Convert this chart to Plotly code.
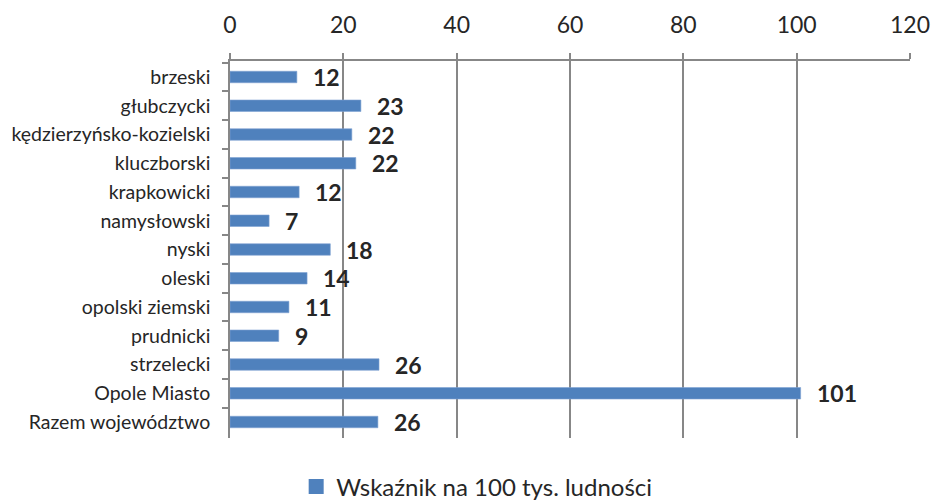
import plotly.graph_objects as go

categories = ["brzeski", "głubczycki", "kędzierzyńsko-kozielski", "kluczborski",
              "krapkowicki", "namysłowski", "nyski", "oleski", "opolski ziemski",
              "prudnicki", "strzelecki", "Opole Miasto", "Razem województwo"]
values = [11.8, 23.1, 21.5, 22.2, 12.2, 6.9, 17.7, 13.6, 10.4, 8.6, 26.3, 100.7, 26.1]
labels = ["12", "23", "22", "22", "12", "7", "18", "14", "11", "9", "26", "101", "26"]
series_name = "Wskaźnik na 100 tys. ludności"
x_ticks = [0, 20, 40, 60, 80, 100, 120]

FONT = "Lato, 'Open Sans', sans-serif"
GRID = "#878787"
BLUE = "#4F81BD"

fig = go.Figure()
fig.add_trace(go.Bar(
    x=values, y=categories, orientation="h", width=0.4,
    marker=dict(color=BLUE, line=dict(color="#7FA3D3", width=0.6)),
    name=series_name, showlegend=False,
))
# legend entry with a larger square swatch
fig.add_trace(go.Scatter(
    x=[None], y=[None], mode="markers", name=series_name,
    marker=dict(symbol="square", size=15, color=BLUE), showlegend=True,
))

for v, c, t in zip(values, categories, labels):
    fig.add_annotation(x=v, y=c, text="<b>%s</b>" % t, showarrow=False,
                       xanchor="left", yanchor="middle", xshift=14, yshift=0,
                       font=dict(family=FONT, size=23, color="#262626"))

fig.update_layout(
    width=931, height=503,
    margin=dict(l=230, r=21, t=61, b=65),
    paper_bgcolor="white", plot_bgcolor="white",
    font=dict(family=FONT, color="#262626"),
    bargap=0.6,
    xaxis=dict(side="top", range=[0, 120], tickvals=x_ticks, showgrid=True,
               gridcolor=GRID, gridwidth=1.5, showline=True, linecolor=GRID,
               linewidth=1.5, ticks="outside", ticklen=6, tickcolor=GRID,
               tickwidth=1.5, tickfont=dict(size=23, color="#262626"),
               ticklabelstandoff=11, zeroline=False, fixedrange=True,
               automargin=False),
    yaxis=dict(autorange="reversed", showline=True, linecolor=GRID, linewidth=1.5,
               ticks="outside", tickson="boundaries", ticklen=6, tickcolor=GRID,
               tickwidth=1.5, tickfont=dict(size=19.5, color="#262626"),
               ticklabelstandoff=14, showgrid=False, fixedrange=True,
               automargin=False),
    legend=dict(orientation="h", xref="container", yref="container",
                x=0.512, xanchor="center", y=0.032, yanchor="middle",
                font=dict(size=24, color="#262626"), itemwidth=30,
                itemsizing="trace"),
)

fig.write_html("out.html", config={"displayModeBar": False},
               post_script="document.body.style.margin='0';")
